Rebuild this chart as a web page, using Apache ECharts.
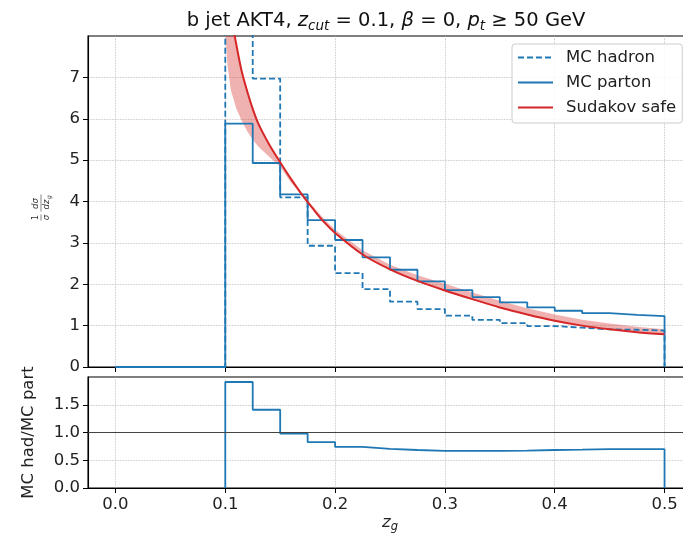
<!DOCTYPE html>
<html>
<head>
<meta charset="UTF-8">
<title>b jet AKT4 zg</title>
<script src="https://cdn.jsdelivr.net/npm/echarts@6/dist/echarts.min.js"></script>
<style>
html, body { margin: 0; padding: 0; background: #fff; }
#main { width: 683px; height: 539px; }
</style>
</head>
<body>
<div id="main"></div>
<script type="text/javascript">
// histogram bin edges (z_g) and bin contents
var binEdges = [0, 0.025, 0.05, 0.075, 0.1, 0.125, 0.15, 0.175, 0.2, 0.225, 0.25,
                0.275, 0.3, 0.325, 0.35, 0.375, 0.4, 0.425, 0.45, 0.475, 0.5];
var partonVals = [0, 0, 0, 0, 5.88, 4.93, 4.17, 3.55, 3.07, 2.65, 2.35, 2.07,
                  1.86, 1.69, 1.56, 1.44, 1.36, 1.30, 1.26, 1.23];
var hadronVals = [0, 0, 0, 0, 11.2, 6.97, 4.10, 2.93, 2.27, 1.88, 1.58, 1.40,
                  1.24, 1.14, 1.06, 0.99, 0.95, 0.91, 0.90, 0.88];
// ratio panel
var ratioEdges = [0.1, 0.125, 0.15, 0.175, 0.2, 0.225, 0.25, 0.275, 0.3, 0.325,
                  0.35, 0.375, 0.4, 0.425, 0.45, 0.475, 0.5];
var ratioVals = [1.91, 1.41, 0.98, 0.825, 0.74, 0.705, 0.685, 0.67, 0.67, 0.67,
                 0.675, 0.685, 0.69, 0.70, 0.70, 0.70];
// Sudakov safe curve
var sudakovZ = [0.105, 0.11, 0.115, 0.12, 0.125, 0.13, 0.14, 0.15, 0.16, 0.17, 0.18, 0.19,
                0.2, 0.225, 0.25, 0.275, 0.3, 0.325, 0.35, 0.375, 0.4, 0.425, 0.45, 0.475, 0.5];
var sudakovVals = [8.55, 7.8, 7.14, 6.66, 6.24, 5.89, 5.38, 4.95, 4.54, 4.16, 3.82, 3.5,
                   3.24, 2.72, 2.36, 2.08, 1.85, 1.64, 1.44, 1.27, 1.12, 1.0, 0.91, 0.84, 0.79];
// other edge of the uncertainty band
var bandZ = [0.1, 0.102, 0.105, 0.11, 0.115, 0.12, 0.125, 0.13, 0.14, 0.15, 0.16, 0.17, 0.18, 0.19,
             0.2, 0.225, 0.25, 0.275, 0.3, 0.325, 0.35, 0.375, 0.4, 0.425, 0.45, 0.475, 0.5];
var bandVals = [8.1, 7.3, 6.7, 6.25, 5.95, 5.7, 5.5, 5.33, 5.08, 4.84, 4.45, 4.17, 3.88, 3.58,
                3.32, 2.82, 2.47, 2.22, 2.01, 1.8, 1.6, 1.42, 1.27, 1.14, 1.05, 0.97, 0.91];
// ticks
var xTicks = [0, 0.1, 0.2, 0.3, 0.4, 0.5];
var yTicksTop = [0, 1, 2, 3, 4, 5, 6, 7];
var yTicksRatio = [0, 0.5, 1.0, 1.5];

var blue = '#1f77b4';
var red = '#d62728';
var font = 'DejaVu Sans';

// step outline like a matplotlib 'step' histogram
function steps(edges, vals, dropEnds) {
	var pts = [];
	if (dropEnds) pts.push([edges[0], 0]);
	for (var i = 0; i < vals.length; i++) {
		pts.push([edges[i], vals[i]]);
		pts.push([edges[i + 1], vals[i]]);
	}
	pts.push([edges[edges.length - 1], 0]);
	return pts;
}
function pairs(xs, ys) {
	var out = [];
	for (var i = 0; i < xs.length; i++) out.push([xs[i], ys[i]]);
	return out;
}

var gridLine = { show: true, lineStyle: { color: '#b8b8b8', type: 'dotted', width: 0.8 } };
var axisLine = { show: true, onZero: false, lineStyle: { color: '#000', width: 1.1 } };
var tickStyle = { show: true, inside: false, length: 5, lineStyle: { color: '#000', width: 1 } };
var labelStyle = { fontFamily: font, fontSize: 16.5, color: '#222' };

var myChart = echarts.init(document.getElementById('main'));
var option = {
	animation: false,
	backgroundColor: '#fff',
	title: {
		text: 'b jet AKT4, {i|z}{s|cut} = 0.1, {i|β} = 0, {i|p}{s|t} ≥ 50 GeV',
		left: 381, top: 4, textAlign: 'center',
		textStyle: {
			fontFamily: font, fontSize: 19.5, fontWeight: 'normal', color: '#111',
			rich: {
				i: { fontFamily: font, fontSize: 19.5, fontStyle: 'italic', color: '#111' },
				s: { fontFamily: font, fontSize: 13.5, fontStyle: 'italic', color: '#111', padding: [10, 0, 0, 0] }
			}
		}
	},
	legend: {
		orient: 'vertical', left: 512, top: 44,
		itemWidth: 35, itemHeight: 19, itemGap: 8,
		padding: [5, 6, 7, 5],
		backgroundColor: 'rgba(255,255,255,0.85)',
		borderColor: '#cccccc', borderWidth: 1, borderRadius: 3,
		itemStyle: { opacity: 0 },
		data: ['MC hadron', 'MC parton', 'Sudakov safe'],
		textStyle: { fontFamily: font, fontSize: 16.5, color: '#222', padding: [0, 0, 0, 8] }
	},
	grid: [
		{ left: 88, top: 36, width: 604, height: 331, outerBoundsMode: 'none', containLabel: false,
		  show: true, borderColor: '#000', borderWidth: 1.1 },
		{ left: 88, top: 377, width: 604, height: 111, outerBoundsMode: 'none', containLabel: false,
		  show: true, borderColor: '#000', borderWidth: 1.1 }
	],
	xAxis: [
		{
			type: 'value', gridIndex: 0, min: -0.025, max: 0.525,
			axisLine: axisLine, splitLine: gridLine,
			axisTick: Object.assign({ customValues: xTicks }, tickStyle),
			axisLabel: { show: false, customValues: xTicks }
		},
		{
			type: 'value', gridIndex: 1, min: -0.025, max: 0.525,
			axisLine: axisLine, splitLine: gridLine,
			axisTick: Object.assign({ customValues: xTicks }, tickStyle),
			axisLabel: Object.assign({ customValues: xTicks, margin: 8,
				formatter: function (v) { return v.toFixed(1); } }, labelStyle),
			name: '{i|z}{s|g}', nameLocation: 'middle', nameGap: 21,
			nameTextStyle: {
				rich: {
					i: { fontFamily: font, fontSize: 16.5, fontStyle: 'italic', color: '#222' },
					s: { fontFamily: font, fontSize: 11.5, fontStyle: 'italic', color: '#222', padding: [9, 0, 0, 0] }
				}
			}
		}
	],
	yAxis: [
		{
			type: 'value', gridIndex: 0, min: 0, max: 8,
			axisLine: axisLine, splitLine: gridLine,
			axisTick: Object.assign({ customValues: yTicksTop }, tickStyle),
			axisLabel: Object.assign({ customValues: yTicksTop, margin: 8 }, labelStyle)
		},
		{
			type: 'value', gridIndex: 1, min: 0, max: 2,
			axisLine: axisLine, splitLine: gridLine,
			axisTick: Object.assign({ customValues: yTicksRatio }, tickStyle),
			axisLabel: Object.assign({ customValues: yTicksRatio, margin: 8,
				formatter: function (v) { return v.toFixed(1); } }, labelStyle),
			name: 'MC had/MC part', nameLocation: 'middle', nameGap: 51,
			nameTextStyle: { fontFamily: font, fontSize: 16.5, color: '#222' }
		}
	],
	graphic: [
		{
			type: 'group', left: 31, top: 192, rotation: Math.PI / 2,
			children: [
				{ type: 'text', x: 2, y: 0, style: { text: '1', font: '8.5px DejaVu Sans', fill: '#333', align: 'center' } },
				{ type: 'line', shape: { x1: -1, y1: 10, x2: 5, y2: 10 }, style: { stroke: '#333', lineWidth: 0.6 } },
				{ type: 'text', x: 2, y: 11, style: { text: 'σ', font: 'italic 8.5px DejaVu Sans', fill: '#333', align: 'center' } },
				{ type: 'text', x: 16, y: 0, style: { text: 'dσ', font: 'italic 8.5px DejaVu Sans', fill: '#333', align: 'center' } },
				{ type: 'line', shape: { x1: 8, y1: 10, x2: 25, y2: 10 }, style: { stroke: '#333', lineWidth: 0.6 } },
				{ type: 'text', x: 15, y: 11, style: { text: 'dz', font: 'italic 8.5px DejaVu Sans', fill: '#333', align: 'center' } },
				{ type: 'text', x: 22.5, y: 15, style: { text: 'g', font: 'italic 6px DejaVu Sans', fill: '#333', align: 'center' } }
			]
		}
	],
	series: [
		{
			name: 'band', type: 'custom', xAxisIndex: 0, yAxisIndex: 0,
			clip: true, silent: true, z: 1, data: [0],
			renderItem: function (params, api) {
				var pts = [];
				for (var i = 0; i < sudakovZ.length; i++) pts.push(api.coord([sudakovZ[i], sudakovVals[i]]));
				for (var j = bandZ.length - 1; j >= 0; j--) pts.push(api.coord([bandZ[j], bandVals[j]]));
				return { type: 'polygon', shape: { points: pts, smooth: 0 }, style: { fill: 'rgba(214,39,40,0.36)', stroke: null } };
			}
		},
		{
			name: 'MC hadron', type: 'line', xAxisIndex: 0, yAxisIndex: 0,
			data: steps(binEdges, hadronVals, false), showSymbol: false, symbol: 'none', clip: true, z: 3,
			itemStyle: { color: blue },
			lineStyle: { color: blue, width: 1.8, type: [6, 3] }
		},
		{
			name: 'MC parton', type: 'line', xAxisIndex: 0, yAxisIndex: 0,
			data: steps(binEdges, partonVals, false), showSymbol: false, symbol: 'none', clip: true, z: 3,
			itemStyle: { color: blue },
			lineStyle: { color: blue, width: 1.8 }
		},
		{
			name: 'Sudakov safe', type: 'line', xAxisIndex: 0, yAxisIndex: 0,
			data: pairs(sudakovZ, sudakovVals), showSymbol: false, symbol: 'none', clip: true, smooth: 0.3, z: 4,
			itemStyle: { color: red },
			lineStyle: { color: red, width: 2 }
		},
		{
			name: 'ratio', type: 'line', xAxisIndex: 1, yAxisIndex: 1,
			data: steps(ratioEdges, ratioVals, true), showSymbol: false, symbol: 'none', clip: true, z: 3,
			itemStyle: { color: blue },
			lineStyle: { color: blue, width: 1.8 },
			markLine: {
				silent: true, symbol: 'none', label: { show: false },
				lineStyle: { color: '#444', width: 1, type: 'solid' },
				data: [{ yAxis: 1 }]
			}
		}
	]
};
myChart.setOption(option);
</script>
</body>
</html>
